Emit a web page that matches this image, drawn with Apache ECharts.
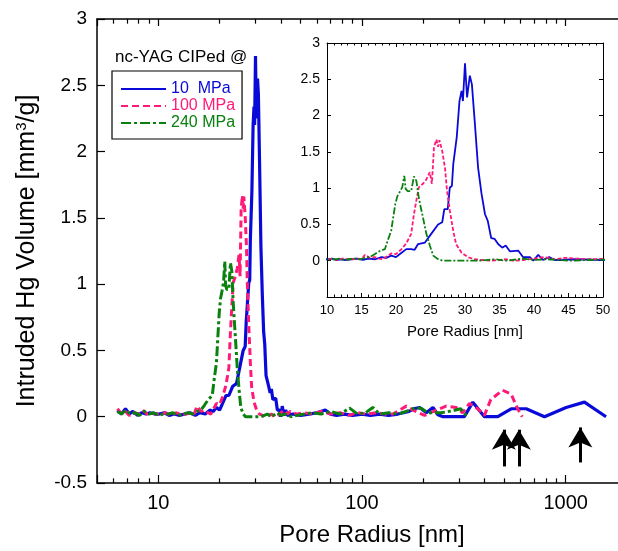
<!DOCTYPE html>
<html><head><meta charset="utf-8">
<script src="https://cdn.jsdelivr.net/npm/echarts@6/dist/echarts.min.js"></script>
<style>html,body{margin:0;padding:0;background:#fff}#c{width:618px;height:551px}</style>
</head><body><div id="c"></div>
<script>
// ---------- data (pore radius [nm], intruded Hg volume [mm3/g]) ----------
const seriesNames = ['10  MPa', '100 MPa', '240 MPa'];
const seriesColors = ['#0a0ad8', '#ff1a78', '#0a800f'];

const blueR = [6.3, 6.6, 6.9, 7.2, 7.5, 7.9, 8.3, 8.7, 9.1, 9.6, 10.1, 10.7, 11.3, 12.0, 12.7, 13.5, 14.3, 15.2, 16.0, 17.0, 17.9, 18.6, 19.3, 20.0, 20.8, 21.5, 22.2, 22.7, 23.2, 24.2, 25.1, 26.1, 26.7, 27.0, 27.5, 27.8, 28.1, 28.3, 28.8, 29.2, 29.5, 29.7, 30.0, 30.3, 30.7, 31.0, 31.4, 31.9, 32.4, 32.9, 33.3, 33.8, 34.3, 34.8, 35.4, 35.9, 36.5, 37.7, 38.4, 39.4, 39.9, 40.6, 41.3, 42.2, 43.0, 43.7, 46, 50, 55, 60, 66, 70, 75, 82, 90, 100, 110, 122, 135, 150, 170, 180, 192, 207, 223, 236, 250, 318, 350, 399, 464, 540, 640, 787, 1005, 1236, 1578];
const blueV = [0.05, 0.02, 0.06, 0.02, 0.04, 0.01, 0.03, 0.02, 0.03, 0.02, 0.02, 0.03, 0.01, 0.02, 0.01, 0.02, 0.03, 0.01, 0.03, 0.02, 0.05, 0.04, 0.07, 0.05, 0.11, 0.16, 0.16, 0.15, 0.23, 0.25, 0.37, 0.50, 0.53, 0.71, 0.71, 1.01, 1.03, 1.33, 1.70, 2.20, 2.34, 2.20, 2.72, 2.25, 2.55, 2.43, 1.93, 1.28, 0.92, 0.64, 0.55, 0.31, 0.30, 0.23, 0.18, 0.21, 0.13, 0.14, 0.05, 0.05, 0.00, 0.08, 0.01, 0.05, 0.01, 0.01, 0.02, 0.01, 0.02, 0.03, 0.05, 0.02, 0.01, 0.02, 0.01, 0.02, 0.01, 0.02, 0.01, 0.02, 0.04, 0.06, 0.07, 0.03, 0.07, 0.015, 0.00, 0.00, 0.11, 0.00, 0.00, 0.06, 0.06, 0.00, 0.07, 0.11, 0.00];

const pinkR = [6.3, 6.6, 6.9, 7.2, 7.6, 8.0, 8.4, 8.8, 9.3, 9.8, 10.3, 10.9, 11.5, 12.2, 12.9, 13.7, 14.5, 15.0, 15.5, 16.2, 16.9, 17.5, 18.1, 18.7, 19.3, 20.0, 20.8, 21.5, 22.2, 22.6, 22.95, 23.3, 23.9, 24.4, 24.9, 25.2, 25.5, 25.85, 26.1, 26.3, 26.7, 27.1, 27.4, 27.8, 28.3, 28.7, 29.5, 30.4, 31.4, 32.5, 33.6, 35.0, 36.0, 37.0, 38.5, 40.0, 41.5, 43.0, 44.5, 46.0, 48, 52, 57, 63, 70, 78, 86, 95, 105, 118, 130, 142, 153, 165, 178, 203, 232, 259, 290, 312, 337, 370, 399, 429, 490, 540, 581, 612];
const pinkV = [0.06, 0.02, 0.04, 0.01, 0.03, 0.02, 0.05, 0.02, 0.03, 0.02, 0.02, 0.03, 0.01, 0.03, 0.02, 0.02, 0.03, 0.02, 0.08, 0.04, 0.05, 0.03, 0.02, 0.06, 0.10, 0.09, 0.16, 0.24, 0.37, 0.64, 0.83, 1.01, 1.06, 1.12, 1.22, 1.06, 1.56, 1.67, 1.57, 1.66, 1.51, 1.28, 0.96, 0.69, 0.41, 0.23, 0.11, 0.05, 0.02, 0.01, 0.00, 0.01, 0.02, 0.00, 0.01, 0.03, 0.05, 0.02, 0.04, 0.03, 0.02, 0.03, 0.02, 0.04, 0.02, 0.03, 0.01, 0.03, 0.02, 0.03, 0.02, 0.02, 0.05, 0.08, 0.05, 0.01, 0.05, 0.08, 0.07, 0.03, 0.10, 0.06, 0.01, 0.13, 0.20, 0.17, 0.06, 0.00];

const greenR = [6.3, 6.6, 6.9, 7.3, 7.7, 8.1, 8.5, 9.0, 9.5, 10.0, 10.6, 11.2, 11.8, 12.5, 13.2, 14.0, 14.8, 15.5, 16.2, 16.9, 17.6, 18.4, 18.8, 19.3, 19.6, 19.9, 20.2, 20.5, 20.9, 21.2, 21.4, 21.7, 22.2, 22.6, 22.95, 23.3, 23.6, 23.9, 24.4, 24.9, 25.4, 26.1, 26.8, 28, 30, 32, 34.3, 36, 38.5, 40, 42, 45, 48, 52, 57, 63, 70, 78, 87, 95, 104, 113, 122, 135, 150, 165, 184, 197, 210, 245, 279, 305, 330];
const greenV = [0.04, 0.02, 0.05, 0.02, 0.03, 0.01, 0.04, 0.02, 0.03, 0.01, 0.02, 0.02, 0.03, 0.01, 0.02, 0.03, 0.02, 0.04, 0.05, 0.09, 0.13, 0.16, 0.28, 0.41, 0.60, 0.78, 0.89, 0.94, 1.01, 1.17, 0.99, 0.96, 0.96, 1.16, 1.10, 0.87, 0.73, 0.60, 0.37, 0.21, 0.07, 0.02, 0.00, 0.00, 0.00, 0.00, 0.02, 0.00, 0.03, 0.01, 0.02, 0.00, 0.01, 0.02, 0.03, 0.02, 0.04, 0.02, 0.065, 0.02, 0.03, 0.07, 0.02, 0.03, 0.02, 0.04, 0.07, 0.06, 0.03, 0.03, 0.045, 0.06, 0.00];

// axes
const mainXMin = 5, mainXMax = 2000;
const mainMajorTicks = [10, 100, 1000];
const mainMinorTicks = [6, 7, 8, 9, 20, 30, 40, 50, 60, 70, 80, 90, 200, 300, 400, 500, 600, 700, 800, 900];
const yMin = -0.5, yMax = 3, yStep = 0.5;
const insetXMin = 10, insetXMax = 50, insetXStep = 5;

// arrows (pore radius, tail value, tip value)
const arrowR = [497, 589, 1180];
const arrowTail = [-0.375, -0.375, -0.345];
const arrowHead = [-0.098, -0.098, -0.081];

// ---------- chart ----------
const FONT = 'Liberation Sans, Arial, Helvetica, sans-serif';
const pairs = (r, v) => r.map((x, i) => [x, v[i]]);
const dataSets = [pairs(blueR, blueV), pairs(pinkR, pinkV), pairs(greenR, greenV)];
const minorLen = 0.035; // minor tick length in y units

const mainStyles = [
  { width: 3.2, type: 'solid' },
  { width: 3, type: [7, 4] },
  { width: 3, type: [10, 3, 3, 3] }
];
const insetStyles = [
  { width: 1.8, type: 'solid' },
  { width: 1.8, type: [4, 2] },
  { width: 1.8, type: [7, 2, 2, 2] }
];

const chart = echarts.init(document.getElementById('c'), null, { renderer: 'canvas' });

const series = [];
dataSets.forEach((d, i) => {
  series.push({
    name: seriesNames[i], type: 'line', xAxisIndex: 0, yAxisIndex: 0,
    data: d, symbol: 'none', animation: false, z: 3 + i,
    lineStyle: Object.assign({ color: seriesColors[i] }, mainStyles[i]),
    itemStyle: { color: seriesColors[i] }
  });
});
dataSets.forEach((d, i) => {
  series.push({
    name: seriesNames[i], type: 'line', xAxisIndex: 2, yAxisIndex: 1,
    data: d.filter(p => p[0] >= 9 && p[0] <= 55), symbol: 'none', animation: false, z: 13 + i,
    clip: true,
    lineStyle: Object.assign({ color: seriesColors[i] }, insetStyles[i]),
    itemStyle: { color: seriesColors[i] }
  });
});
// minor ticks of the log axis (bottom and top)
const minorTickLines = [];
mainMinorTicks.forEach(v => {
  minorTickLines.push([{ coord: [v, yMin] }, { coord: [v, yMin + minorLen] }]);
  minorTickLines.push([{ coord: [v, yMax] }, { coord: [v, yMax - minorLen] }]);
});
series.push({
  type: 'line', xAxisIndex: 0, yAxisIndex: 0, data: [], symbol: 'none', animation: false, z: 20,
  markLine: {
    silent: true, animation: false, symbol: ['none', 'none'],
    label: { show: false },
    lineStyle: { color: '#000', width: 1.2, type: 'solid' },
    data: minorTickLines
  }
});
// arrows
series.push({
  type: 'line', xAxisIndex: 0, yAxisIndex: 0, data: [], symbol: 'none', animation: false,
  markLine: {
    silent: true, animation: false, symbol: ['none', 'arrow'], symbolSize: [18, 20],
    label: { show: false },
    lineStyle: { color: '#000', width: 3, type: 'solid' },
    data: arrowR.map((r, i) => [{ coord: [r, arrowTail[i]] }, { coord: [r, arrowHead[i]] }])
  }
});

const isMajor = v => {
  const l = Math.log10(v);
  return Math.abs(l - Math.round(l)) < 1e-6 && v >= 9 && v <= 1100;
};
const tickStyle = (len, w) => ({ show: true, inside: true, length: len, lineStyle: { color: '#000', width: w } });
const lineStyleAx = w => ({ show: true, onZero: false, lineStyle: { color: '#000', width: w } });

chart.setOption({
  animation: false,
  backgroundColor: '#fff',
  textStyle: { fontFamily: FONT, color: '#000' },
  title: {
    text: 'nc-YAG CIPed @', left: 110, top: 44,
    textStyle: { fontFamily: FONT, fontSize: 17, fontWeight: 'normal', color: '#000' }
  },
  legend: {
    data: seriesNames.map((n, i) => ({ name: n, textStyle: { color: seriesColors[i] } })),
    orient: 'vertical', left: 112, top: 71,
    borderColor: '#000', borderWidth: 1.2, padding: [10, 7, 8, 8],
    itemWidth: 45, itemHeight: 14, itemGap: 1,
    itemStyle: { color: 'rgba(0,0,0,0)', borderWidth: 0 },
    textStyle: { fontFamily: FONT, fontSize: 16 },
    selectedMode: false
  },
  grid: [
    { left: 97, top: 19, width: 530, height: 464, outerBoundsMode: 'none', containLabel: false },
    { left: 327, top: 43, width: 276, height: 254, outerBoundsMode: 'none', show: true, backgroundColor: '#fff', borderWidth: 0, z: 10 }
  ],
  xAxis: [
    {
      type: 'log', gridIndex: 0, min: mainXMin, max: mainXMax, logBase: 10,
      name: 'Pore Radius [nm]', nameLocation: 'middle', nameGap: 40,
      nameTextStyle: { fontFamily: FONT, fontSize: 24, color: '#000', padding: [0, 0, 0, 20] },
      axisLine: lineStyleAx(1.5),
      axisTick: tickStyle(8, 1.2),
      axisLabel: { fontFamily: FONT, fontSize: 20, color: '#000', margin: 10,
        formatter: v => isMajor(v) ? String(Math.round(v)) : '' },
      splitLine: { show: false }, minorTick: { show: false }
    },
    {
      type: 'log', gridIndex: 0, min: mainXMin, max: mainXMax, position: 'top',
      axisLine: lineStyleAx(1.5),
      axisTick: tickStyle(7, 1.2),
      axisLabel: { show: false }, splitLine: { show: false }, minorTick: { show: false }
    },
    {
      type: 'value', gridIndex: 1, min: insetXMin, max: insetXMax, interval: insetXStep,
      name: 'Pore Radius [nm]', nameLocation: 'middle', nameGap: 27,
      nameTextStyle: { fontFamily: FONT, fontSize: 15, color: '#000' },
      axisLine: lineStyleAx(1),
      axisTick: tickStyle(4, 1),
      minorTick: { show: true, splitNumber: 5, length: 2.5, lineStyle: { color: '#000' } },
      axisLabel: { fontFamily: FONT, fontSize: 13, color: '#000', margin: 7 },
      splitLine: { show: false }, z: 11
    },
    {
      type: 'value', gridIndex: 1, min: insetXMin, max: insetXMax, interval: insetXStep, position: 'top',
      axisLine: lineStyleAx(1),
      axisTick: tickStyle(4, 1),
      minorTick: { show: true, splitNumber: 5, length: 2.5, lineStyle: { color: '#000' } },
      axisLabel: { show: false }, splitLine: { show: false }, z: 11
    }
  ],
  yAxis: [
    {
      type: 'value', gridIndex: 0, min: yMin, max: yMax, interval: yStep,
      name: 'Intruded Hg Volume [mm{sup|3}/g]', nameLocation: 'middle', nameGap: 56,
      nameTextStyle: { fontFamily: FONT, fontSize: 25, color: '#000',
        rich: { sup: { fontFamily: FONT, fontSize: 15, color: '#000', padding: [0, 0, 12, 0] } } },
      axisLine: lineStyleAx(1.5),
      axisTick: tickStyle(8, 1.2),
      axisLabel: { fontFamily: FONT, fontSize: 19, color: '#000', margin: 10 },
      splitLine: { show: false }
    },
    {
      type: 'value', gridIndex: 1, min: yMin, max: yMax, interval: yStep,
      axisLine: lineStyleAx(1),
      axisTick: tickStyle(4, 1),
      axisLabel: { fontFamily: FONT, fontSize: 14, color: '#000', margin: 7,
        formatter: v => (v < 0 ? '' : String(v)) },
      splitLine: { show: false }, z: 11
    },
    {
      type: 'value', gridIndex: 1, min: yMin, max: yMax, interval: yStep, position: 'right',
      axisLine: lineStyleAx(1),
      axisTick: tickStyle(4, 1),
      axisLabel: { show: false }, splitLine: { show: false }, z: 11
    }
  ],
  series: series
});
</script>
</body></html>
